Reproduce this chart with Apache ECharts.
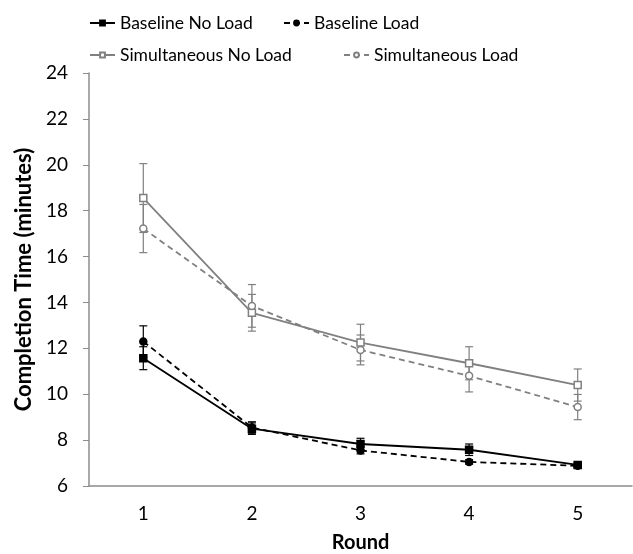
<!DOCTYPE html>
<html>
<head>
<meta charset="utf-8">
<script src="https://cdn.jsdelivr.net/npm/echarts@6/dist/echarts.min.js"></script>
<style>
  html, body { margin: 0; padding: 0; background: #fff; }
  #chart { width: 633px; height: 554px; }
</style>
</head>
<body>
<div id="chart"></div>
<script>
// 数据
var rounds = ["1", "2", "3", "4", "5"];
var baselineNoLoad = [11.57, 8.5, 7.83, 7.58, 6.92];
var baselineNoLoadErr = [0.5, 0.25, 0.25, 0.25, 0.1];
var baselineLoad = [12.3, 8.55, 7.55, 7.05, 6.88];
var baselineLoadErr = [0.68, 0.25, 0.15, 0.1, 0.1];
var simNoLoad = [18.55, 13.55, 12.25, 11.35, 10.4];
var simNoLoadErr = [1.5, 0.8, 0.8, 0.72, 0.7];
var simLoad = [17.22, 13.85, 11.93, 10.8, 9.44];
var simLoadErr = [1.05, 0.93, 0.65, 0.7, 0.55];
var yTicks = [6, 8, 10, 12, 14, 16, 18, 20, 22, 24];

(function () {
    var myChart = echarts.init(document.getElementById("chart"));
    var black = "#000000";
    var gray = "#808080";
    var font = "Lato";

    // 误差线数据 [类目索引, 下限, 上限]
    function errData(vals, errs) {
        return vals.map(function (v, i) {
            return [i, v - errs[i], v + errs[i]];
        });
    }
    // 用 custom 系列画误差线
    function errSeries(vals, errs, color) {
        return {
            type: "custom",
            silent: true,
            z: 1,
            data: errData(vals, errs),
            renderItem: function (params, api) {
                var lo = api.coord([api.value(0), api.value(1)]);
                var hi = api.coord([api.value(0), api.value(2)]);
                var w = 4;
                var st = { stroke: color, lineWidth: 1.2 };
                return {
                    type: "group",
                    children: [
                        { type: "line", shape: { x1: lo[0], y1: lo[1], x2: hi[0], y2: hi[1] }, style: st },
                        { type: "line", shape: { x1: lo[0] - w, y1: lo[1], x2: lo[0] + w, y2: lo[1] }, style: st },
                        { type: "line", shape: { x1: hi[0] - w, y1: hi[1], x2: hi[0] + w, y2: hi[1] }, style: st },
                    ],
                };
            },
        };
    }
    function lineSeries(name, data, color, dashed, symbol, filled) {
        return {
            name: name,
            type: "line",
            data: data,
            z: 3,
            symbol: symbol,
            symbolSize: 7,
            showSymbol: true,
            lineStyle: { color: color, width: 1.8, type: dashed ? [6, 4] : "solid" },
            itemStyle: {
                color: filled ? color : "#fff",
                borderColor: color,
                borderWidth: 1.5,
            },
        };
    }

    var legendText = { fontFamily: font, fontSize: 17.5, color: "#000" };
    var legendBase = { itemWidth: 25, itemHeight: 6, itemGap: 2, textStyle: legendText, padding: 0 };
    var option = {
        animation: false,
        grid: { left: 89, right: 1, top: 73, bottom: 68, outerBoundsMode: "none" },
        legend: [
            Object.assign({ data: ["Baseline No Load"], left: 89, top: 14 }, legendBase),
            Object.assign({ data: ["Baseline Load"], left: 283, top: 14 }, legendBase),
            Object.assign({ data: ["Simultaneous No Load"], left: 89, top: 46 }, legendBase),
            Object.assign({ data: ["Simultaneous Load"], left: 343, top: 46 }, legendBase),
        ],
        xAxis: {
            type: "category",
            data: rounds,
            name: "Round",
            nameLocation: "middle",
            nameGap: 47,
            nameTextStyle: { fontFamily: font, fontSize: 20, fontWeight: "bold", color: "#000" },
            axisLine: { lineStyle: { color: "#8c8c8c", width: 1.5 } },
            axisTick: { show: false },
            axisLabel: { fontFamily: font, fontSize: 19, color: "#000", margin: 18 },
        },
        yAxis: {
            type: "value",
            min: yTicks[0],
            max: yTicks[yTicks.length - 1],
            interval: 2,
            name: "Completion Time (minutes)",
            nameLocation: "middle",
            nameGap: 48,
            nameTextStyle: { fontFamily: font, fontSize: 22, fontWeight: "bold", color: "#000" },
            splitLine: { show: false },
            axisLine: { show: true, lineStyle: { color: "#8c8c8c", width: 1.5 } },
            axisTick: { show: true, inside: false, length: 6, lineStyle: { color: "#8c8c8c" } },
            axisLabel: { fontFamily: font, fontSize: 19, color: "#000", margin: 21 },
        },
        series: [
            errSeries(simNoLoad, simNoLoadErr, gray),
            errSeries(simLoad, simLoadErr, gray),
            errSeries(baselineNoLoad, baselineNoLoadErr, black),
            errSeries(baselineLoad, baselineLoadErr, black),
            lineSeries("Simultaneous No Load", simNoLoad, gray, false, "rect", false),
            lineSeries("Simultaneous Load", simLoad, gray, true, "circle", false),
            lineSeries("Baseline No Load", baselineNoLoad, black, false, "rect", true),
            lineSeries("Baseline Load", baselineLoad, black, true, "circle", true),
        ],
    };
    myChart.setOption(option);
})();
</script>
</body>
</html>
